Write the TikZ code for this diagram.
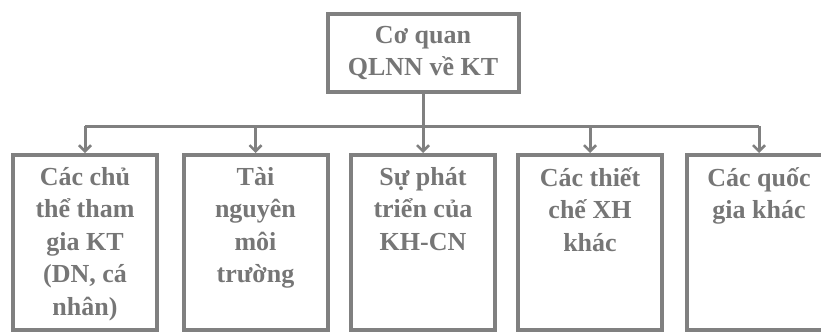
\documentclass[tikz,border=0pt]{standalone}
\usepackage{fontspec}
\setmainfont{Liberation Serif}
\usetikzlibrary{arrows.meta, positioning}
\definecolor{boxgray}{RGB}{128,128,128}
\definecolor{textgray}{RGB}{118,118,118}

\begin{document}
\begin{tikzpicture}[
        x=1pt, y=-1pt,
        font=\bfseries\fontsize{26}{32.5}\selectfont,
        box/.style={draw=boxgray, line width=4pt, minimum height=175pt},
        cell/.style={box, minimum width=144pt},
        celltext/.style={anchor=north, text=textgray, align=center, inner sep=0pt, yshift=-14pt},
        link/.style={draw=boxgray, line width=3pt},
        >={Straight Barb[length=6pt, width=12pt, line width=2.5pt]}
    ]

    \useasboundingbox (0,0) rectangle (821,332);
    \clip (0,0) rectangle (821,332);

    % ---- top box ----
    \node[draw=boxgray, line width=4pt, minimum width=191pt, minimum height=78pt,
          text=textgray, align=center, inner sep=0pt] (coquan) at (423,53) {Cơ quan\\QLNN về KT};

    % ---- bottom boxes ----
    \node[cell, label={[celltext]north:Các chủ\\thể tham\\gia KT\\(DN, cá\\nhân)}] (chuthe) at (85,242.5) {};
    \node[cell, label={[celltext]north:Tài\\nguyên\\môi\\trường}] (tainguyen) at (255.5,242.5) {};
    \node[cell, label={[celltext]north:Sự phát\\triển của\\KH-CN}] (khcn) at (423,242.5) {};
    \node[cell, label={[celltext]north:Các thiết\\chế XH\\khác}] (thietche) at (590,242.5) {};
    \node[box, minimum width=150pt, label={[celltext, xshift=-3pt]north:Các quốc\\gia khác}] (quocgia) at (762,242.5) {};

    % ---- bus line ----
    \coordinate (bus) at (423,126);
    \coordinate (busend) at (759,126);
    \draw[link] (coquan.south) -- (bus);
    \draw[link] (chuthe.north |- bus) -- (busend);

    % ---- arrows down to each box ----
    \draw[link, ->] (chuthe.north |- bus) -- (chuthe.north);
    \draw[link, ->] (tainguyen.north |- bus) -- (tainguyen.north);
    \draw[link, ->] (bus) -- (khcn.north);
    \draw[link, ->] (thietche.north |- bus) -- (thietche.north);
    \draw[link, ->] (busend) -- (busend |- quocgia.north);

\end{tikzpicture}
\end{document}
